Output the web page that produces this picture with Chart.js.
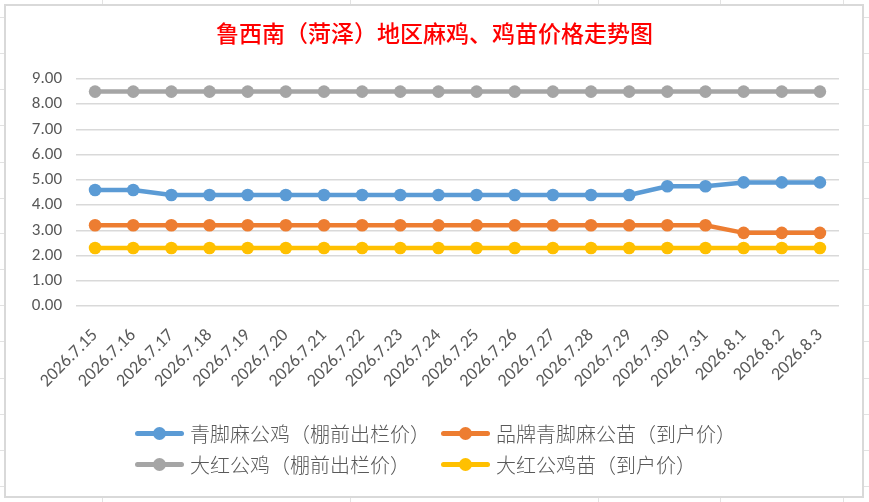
<!DOCTYPE html>
<html>
<head>
<meta charset="utf-8">
<script src="https://cdn.jsdelivr.net/npm/chart.js@4.4.1/dist/chart.umd.min.js"></script>
<style>
  html, body { margin: 0; padding: 0; background: #fff; }
  #wrap { position: relative; width: 869px; height: 502px; overflow: hidden; }
  #c { position: absolute; left: 0; top: 0; }
  #title { position: absolute; left: 0; width: 869px; top: 17px; text-align: center;
    font-family: "Noto Sans CJK SC", sans-serif; font-size: 23px; font-weight: 500; color: #FF0000; line-height: 30px; }
  .lg { position: absolute; height: 26px; display: flex; align-items: center;
    font-family: "Noto Sans CJK SC", sans-serif; font-size: 20px; font-weight: 300; color: #595959; white-space: nowrap; }
  .sw { position: relative; width: 49px; height: 26px; margin-right: 6px; flex: none; }
  .sw .ln { position: absolute; left: 0; right: 0; top: 10.5px; height: 5px; border-radius: 2.5px; }
  .sw .dt { position: absolute; left: 18px; top: 6.5px; width: 13px; height: 13px; border-radius: 50%; }
</style>
</head>
<body>
<div id="wrap">
  <canvas id="c" width="869" height="502" style="width:869px;height:502px"></canvas>
  <div id="title">鲁西南（菏泽）地区麻鸡、鸡苗价格走势图</div>
  <div id="legend"></div>
</div>
<script>
const categories = ["2026.7.15","2026.7.16","2026.7.17","2026.7.18","2026.7.19","2026.7.20","2026.7.21","2026.7.22","2026.7.23","2026.7.24","2026.7.25","2026.7.26","2026.7.27","2026.7.28","2026.7.29","2026.7.30","2026.7.31","2026.8.1","2026.8.2","2026.8.3"];
const seriesNames = ["青脚麻公鸡（棚前出栏价）","品牌青脚麻公苗（到户价）","大红公鸡（棚前出栏价）","大红公鸡苗（到户价）"];
const qingjiaoGongji   = [4.6,4.6,4.4,4.4,4.4,4.4,4.4,4.4,4.4,4.4,4.4,4.4,4.4,4.4,4.4,4.75,4.75,4.9,4.9,4.9];
const pinpaiGongmiao   = [3.2,3.2,3.2,3.2,3.2,3.2,3.2,3.2,3.2,3.2,3.2,3.2,3.2,3.2,3.2,3.2,3.2,2.9,2.9,2.9];
const dahongGongji     = [8.5,8.5,8.5,8.5,8.5,8.5,8.5,8.5,8.5,8.5,8.5,8.5,8.5,8.5,8.5,8.5,8.5,8.5,8.5,8.5];
const dahongGongjimiao = [2.3,2.3,2.3,2.3,2.3,2.3,2.3,2.3,2.3,2.3,2.3,2.3,2.3,2.3,2.3,2.3,2.3,2.3,2.3,2.3];
const yMin = 0, yMax = 9, yStep = 1;
const colors = ["#5B9BD5","#ED7D31","#A5A5A5","#FFC000"];

const seriesData = [qingjiaoGongji, pinpaiGongmiao, dahongGongji, dahongGongjimiao];

// Excel-like sheet background + chart border
const sheetBg = {
  id: 'sheetBg',
  beforeDraw(chart) {
    const ctx = chart.ctx;
    ctx.save();
    ctx.fillStyle = '#fff';
    ctx.fillRect(0, 0, 869, 502);
    ctx.strokeStyle = '#e2e2e2';
    ctx.lineWidth = 1;
    const rows = [17,53,89,125,162,198,233,269,305,341,378,414,450,486];
    const cols = [102,350,598,720,843];
    ctx.beginPath();
    rows.forEach(y => { ctx.moveTo(0, y + 0.5); ctx.lineTo(869, y + 0.5); });
    cols.forEach(x => { ctx.moveTo(x + 0.5, 0); ctx.lineTo(x + 0.5, 502); });
    ctx.stroke();
    ctx.fillStyle = '#fff';
    ctx.fillRect(4, 4, 859, 493);
    ctx.strokeStyle = '#d9d9d9';
    ctx.lineWidth = 2;
    ctx.strokeRect(5, 5, 858, 492);
    ctx.restore();
  }
};

const labelFont = 'Carlito, Lato, "Liberation Sans", sans-serif';

const chart = new Chart(document.getElementById('c'), {
  type: 'line',
  data: {
    labels: categories,
    datasets: seriesNames.map((name, i) => ({
      label: name,
      data: seriesData[i],
      borderColor: colors[i],
      backgroundColor: colors[i],
      pointBackgroundColor: colors[i],
      pointBorderColor: colors[i],
      borderWidth: 4.5,
      pointRadius: 6.3,
      pointHoverRadius: 6.3,
      pointBorderWidth: 0,
      tension: 0,
      fill: false
    }))
  },
  options: {
    responsive: false,
    animation: false,
    devicePixelRatio: 1,
    layout: { padding: { top: 79, right: 30, left: 0, bottom: 0 } },
    plugins: {
      legend: { display: false },
      title: { display: false },
      tooltip: { enabled: false }
    },
    events: [],
    scales: {
      x: {
        offset: true,
        grid: { display: false, drawTicks: false },
        border: { display: false },
        ticks: {
          autoSkip: false, minRotation: 45, maxRotation: 45, padding: 19,
          color: '#595959',
          font: { family: labelFont, size: 18 }
        },
        afterFit(s) { s.height = 196; }
      },
      y: {
        min: yMin, max: yMax,
        grid: { color: '#d9d9d9', lineWidth: 1.5, drawTicks: false },
        border: { display: false },
        ticks: {
          stepSize: yStep, padding: 14, color: '#595959',
          font: { family: labelFont, size: 17 },
          callback: v => Number(v).toFixed(2)
        },
        afterFit(s) { s.width = 76; }
      }
    }
  },
  plugins: [sheetBg]
});

// HTML legend, two columns
const legendPos = [[135, 433], [441, 433], [135, 464], [441, 464]];
const lg = document.getElementById('legend');
chart.data.datasets.forEach((ds, i) => {
  const d = document.createElement('div');
  d.className = 'lg';
  d.style.left = legendPos[i][0] + 'px';
  d.style.top = (legendPos[i][1] - 13) + 'px';
  d.innerHTML = '<div class="sw"><div class="ln" style="background:' + ds.borderColor +
    '"></div><div class="dt" style="background:' + ds.borderColor + '"></div></div><span>' + ds.label + '</span>';
  lg.appendChild(d);
});
</script>
</body>
</html>
